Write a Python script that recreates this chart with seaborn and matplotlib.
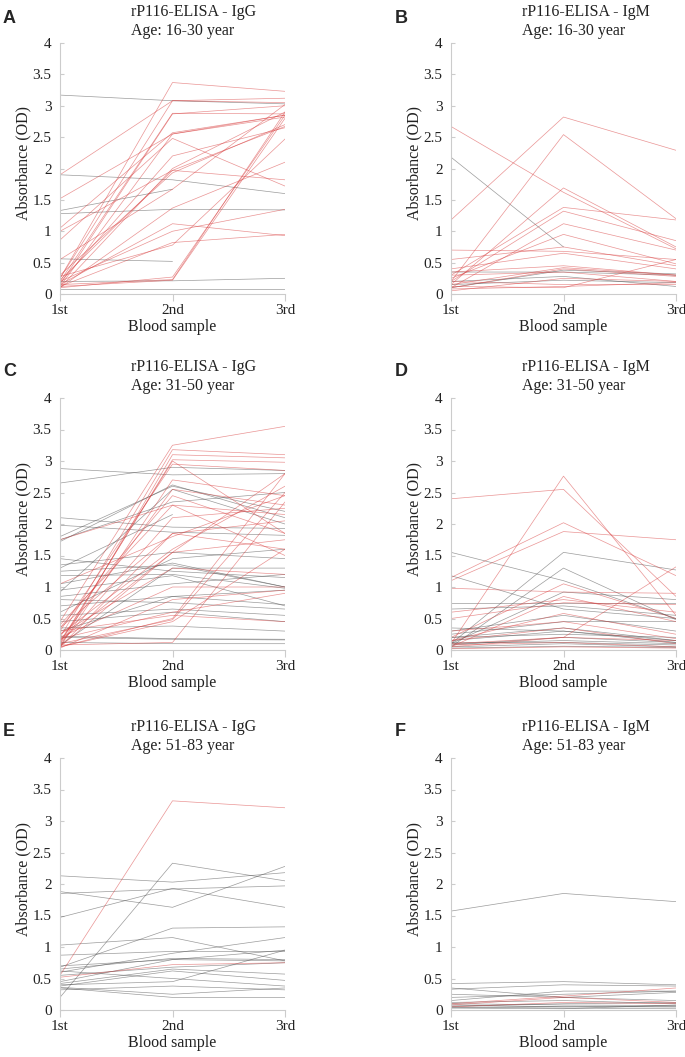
import matplotlib
matplotlib.use('Agg')
import numpy as np
import pandas as pd
import seaborn as sns
import matplotlib.pyplot as plt

samples = ['1st', '2nd', '3rd']
nan = np.nan

# ---- Panel A: IgG 16-30 ----
A_red = [
    [1.90, 3.08, 3.05], [0.25, 3.37, 3.23], [1.05, 2.57, 2.85], [0.86, 2.48, 1.72],
    [0.25, 3.08, 3.12], [0.20, 2.88, 2.87], [0.15, 2.87, 3.00], [0.12, 2.55, 2.82],
    [0.18, 2.20, 2.65], [0.10, 2.00, 2.90], [0.22, 1.97, 2.67], [0.30, 1.93, 2.70],
    [0.10, 1.37, 2.10], [0.15, 1.12, 0.93], [0.20, 1.00, 1.35], [0.12, 0.82, 0.95],
    [0.28, 0.78, 2.47], [0.10, 0.27, 2.85], [0.15, 0.23, 2.90], [0.12, 0.22, 2.80],
    [1.00, 1.97, 1.82], [0.55, 1.67, 3.02], [1.52, 2.55, 2.85],
]
A_gray = [
    [3.17, 3.08, 3.03], [1.90, 1.82, 1.60], [1.33, 1.67, nan], [1.28, 1.35, 1.34],
    [0.56, 0.52, nan], [0.20, 0.21, 0.25], [0.08, 0.08, 0.08],
]

# ---- Panel B: IgM 16-30 ----
B_red = [
    [2.67, 1.62, 0.72], [1.18, 2.82, 2.29], [0.20, 2.54, 1.20], [0.15, 1.69, 0.75],
    [0.30, 1.38, 1.18], [0.20, 1.32, 0.85], [0.10, 1.12, 0.70], [0.25, 0.95, 0.48],
    [0.70, 0.68, 0.55], [0.55, 0.75, 0.45], [0.40, 0.65, 0.40], [0.35, 0.45, 0.30],
    [0.15, 0.42, 0.30], [0.10, 0.40, 0.28], [0.12, 0.10, 0.55], [0.08, 0.12, 0.18],
    [0.20, 0.15, 0.15], [0.05, 0.25, 0.20], [0.30, 0.35, 0.20],
]
B_gray = [
    [2.18, 0.75, nan], [0.35, 0.35, 0.30], [0.20, 0.28, 0.12], [0.15, 0.22, 0.18],
    [0.10, 0.38, 0.32],
]

# ---- Panel C: IgG 31-50 ----
C_red = [
    [0.45, 3.25, 3.55], [0.20, 3.18, 3.10], [0.05, 3.10, 3.05], [0.10, 3.02, 2.98],
    [0.30, 2.95, 2.85], [0.05, 2.70, 2.45], [0.15, 2.55, 2.30], [0.35, 2.45, 1.85],
    [0.40, 2.30, 1.50], [0.10, 2.10, 2.25], [0.05, 1.85, 2.05], [0.25, 1.60, 2.60],
    [0.15, 1.55, 1.75], [0.35, 1.85, 1.60], [1.75, 2.30, 2.15], [1.05, 1.80, 2.45],
    [0.05, 0.50, 2.80], [0.10, 0.48, 2.50], [0.05, 0.45, 1.60], [0.08, 0.12, 2.35],
    [0.03, 0.80, 0.95], [0.20, 1.00, 1.00], [0.30, 0.55, 0.45], [0.25, 1.30, 1.20],
    [0.18, 0.60, 0.90], [0.12, 3.00, 1.85], [0.05, 1.55, 2.80],
]
C_gray = [
    [2.88, 2.78, 2.80], [2.65, 2.90, 2.85], [2.10, 1.95, 1.93], [1.98, 1.87, 1.82],
    [1.80, 2.60, 2.20], [1.75, 2.35, 2.50], [1.72, 2.62, 2.10], [1.45, 1.25, 1.15],
    [1.35, 1.55, 1.45], [1.30, 2.15, nan], [1.25, 1.35, 1.00], [1.18, 1.20, 0.98],
    [1.05, 1.38, 1.00], [0.95, 1.18, 0.70], [0.92, 2.55, 2.00], [0.85, 1.05, 1.20],
    [0.80, 0.75, 0.65], [0.70, 0.85, 0.72], [0.55, 0.65, 0.55], [0.45, 0.60, 0.45],
    [0.35, 0.38, 0.30], [0.22, 0.18, 0.17], [0.20, 0.17, 0.16], [0.12, 0.10, 0.10],
    [0.08, 1.30, 1.30], [0.30, 0.85, 0.95], [0.60, 1.45, 1.60],
]

# ---- Panel D: IgM 31-50 ----
D_red = [
    [0.10, 2.76, 0.55], [2.40, 2.55, 0.85], [1.15, 2.02, 1.18], [1.10, 1.88, 1.75],
    [0.98, 0.92, 0.90], [0.20, 1.05, 0.50], [0.05, 0.85, 0.45], [0.15, 0.58, 0.25],
    [0.10, 0.20, 1.32], [0.50, 0.75, 0.72], [0.30, 0.45, 0.18], [0.05, 0.20, 0.15],
    [0.08, 0.12, 0.05], [0.02, 0.05, 0.03], [0.15, 0.35, 0.10], [0.60, 0.80, 0.60],
]
D_gray = [
    [1.55, 1.10, 0.50], [1.18, 0.65, 0.50], [0.10, 1.55, 1.27], [0.05, 1.30, 0.48],
    [0.10, 0.92, 0.80], [0.75, 0.75, 0.75], [0.65, 0.70, 0.55], [0.30, 0.55, 0.30],
    [0.20, 0.35, 0.15], [0.15, 0.30, 0.12], [0.10, 0.15, 0.10], [0.05, 0.10, 0.05],
    [0.08, 0.20, 0.12], [0.12, 0.12, 0.08], [0.03, 0.06, 0.04], [0.20, 0.25, 0.20],
    [0.35, 0.30, 0.15], [0.25, 0.45, 0.45],
]

# ---- Panel E: IgG 51-83 ----
E_red = [
    [0.55, 3.32, 3.21], [0.52, 0.72, 0.75],
]
E_gray = [
    [2.13, 2.03, 2.18], [1.88, 1.63, 2.28], [1.85, 1.92, 1.97], [1.47, 1.93, 1.63],
    [0.20, 2.33, 2.05], [1.03, 1.15, 0.78], [0.68, 1.30, 1.32], [0.87, 0.93, 0.93],
    [0.65, 0.82, 0.80], [0.70, 0.80, 0.78], [0.60, 0.90, 1.15], [0.45, 0.80, 0.95],
    [0.40, 0.45, 0.95], [0.38, 0.62, 0.47], [0.36, 0.25, 0.35], [0.35, 0.20, 0.20],
    [0.32, 0.38, 0.32], [0.42, 0.65, 0.57], [0.55, 0.68, 0.75], [0.62, 0.50, 0.38],
]

# ---- Panel F: IgM 51-83 ----
F_red = [
    [0.08, 0.20, 0.12], [0.10, 0.22, 0.35], [0.05, 0.12, 0.10],
]
F_gray = [
    [1.57, 1.85, 1.72], [0.42, 0.45, 0.40], [0.33, 0.40, 0.38], [0.25, 0.20, 0.28],
    [0.15, 0.30, 0.30], [0.12, 0.15, 0.10], [0.08, 0.05, 0.05], [0.05, 0.03, 0.02],
    [0.10, 0.08, 0.07], [0.20, 0.25, 0.30], [0.06, 0.10, 0.12], [0.04, 0.06, 0.05],
    [0.35, 0.20, 0.15], [0.03, 0.02, 0.08],
]

panel_letters = ['A', 'B', 'C', 'D', 'E', 'F']
titles = ['rP116-ELISA - IgG\nAge: 16-30 year', 'rP116-ELISA - IgM\nAge: 16-30 year',
          'rP116-ELISA - IgG\nAge: 31-50 year', 'rP116-ELISA - IgM\nAge: 31-50 year',
          'rP116-ELISA - IgG\nAge: 51-83 year', 'rP116-ELISA - IgM\nAge: 51-83 year']
panel_data = [(A_red, A_gray), (B_red, B_gray), (C_red, C_gray),
              (D_red, D_gray), (E_red, E_gray), (F_red, F_gray)]
y_ticks = [0, 0.5, 1, 1.5, 2, 2.5, 3, 3.5, 4]
y_ticklabels = ['0', '0.5', '1', '1.5', '2', '2.5', '3', '3.5', '4']

RED = '#d83c3c'
GRAY = '#4a4a4a'

sns.set_theme(style='white')
plt.rcParams['font.family'] = ['Liberation Serif', 'DejaVu Serif']

W, H = 685, 1057
fig = plt.figure(figsize=(W / 100, H / 100), dpi=100)

lefts = [60, 451]
rows = [(43, 294), (398, 650), (758, 1010)]
letter_tops = [10, 363, 723]
letter_x = [3, 395]

for k, (red, gray) in enumerate(panel_data):
    r, c = divmod(k, 2)
    top, bot = rows[r]
    left = lefts[c]
    hgt = bot - top
    ax = fig.add_axes([left / W, 1 - bot / H, 225 / W, hgt / H])
    recs = []
    for grp, lines in (('neg', gray), ('pos', red)):
        for i, vals in enumerate(lines):
            for j, v in enumerate(vals):
                if not np.isnan(v):
                    recs.append({'subject': f'{grp}{i}', 'group': grp, 'x': j, 'od': v})
    df = pd.DataFrame(recs)
    sns.lineplot(data=df, x='x', y='od', hue='group', hue_order=['neg', 'pos'],
                 units='subject', estimator=None, palette={'neg': GRAY, 'pos': RED},
                 linewidth=0.5, alpha=0.55, legend=False, sort=False, ax=ax)
    ax.set_xlim(0, 2)
    ax.set_ylim(0, 4)
    ax.set_xticks([0, 1, 2])
    ax.set_xticklabels(samples)
    ax.set_yticks(y_ticks)
    ax.set_yticklabels(y_ticklabels)
    for s in ('top', 'right'):
        ax.spines[s].set_visible(False)
    for s in ('left', 'bottom'):
        ax.spines[s].set_color('#cccccc')
        ax.spines[s].set_linewidth(0.8)
    ax.tick_params(axis='x', length=5, width=0.8, color='#cccccc', pad=2,
                   labelsize=11, labelcolor='#222222', direction='out', bottom=True)
    ax.tick_params(axis='y', length=3, width=0.8, color='#cccccc', direction='in',
                   left=True, pad=6, labelsize=11, labelcolor='#222222')
    ax.set_xlabel('Blood sample', fontsize=11.5, color='#222222')
    ax.set_ylabel('Absorbance (OD)', fontsize=11.5, color='#222222')
    ax.xaxis.set_label_coords(0.5, -25 / hgt)
    ax.yaxis.set_label_coords(-29 / 225, 0.52)
    ax.text(71 / 225, 1 + 4 / hgt, titles[k], transform=ax.transAxes, ha='left', va='bottom',
            fontsize=11.5, linespacing=1.25, color='#222222')
    fig.text(letter_x[c] / W, 1 - letter_tops[r] / H, panel_letters[k], ha='left', va='top',
             fontsize=13, fontweight='bold', family=['Liberation Sans', 'DejaVu Sans'])

fig.savefig('out.png', dpi=100)
